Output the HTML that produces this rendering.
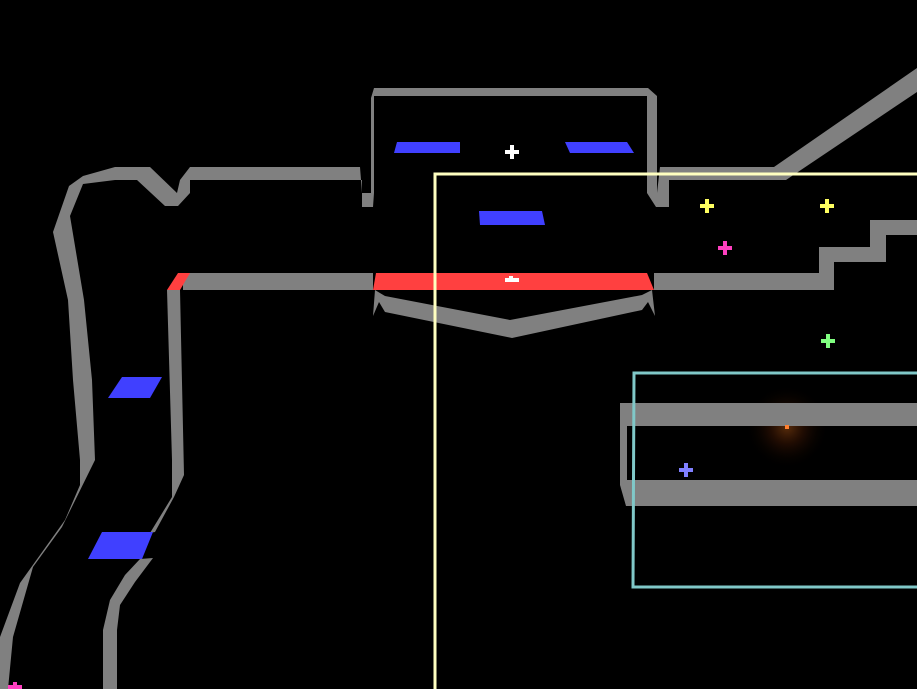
<!DOCTYPE html>
<html><head><style>html,body{margin:0;padding:0;background:#000;width:917px;height:689px;overflow:hidden}</style></head>
<body>
<svg width="917" height="689" viewBox="0 0 917 689" xmlns="http://www.w3.org/2000/svg">
<defs><radialGradient id="g"><stop offset="0" stop-color="#804010" stop-opacity="0.7"/><stop offset="0.4" stop-color="#401804" stop-opacity="0.5"/><stop offset="1" stop-color="#000" stop-opacity="0"/></radialGradient></defs>
<circle cx="787" cy="427" r="42" fill="url(#g)"/>
<g fill="#808080">
<polygon points="53,232 68,300 73,380 80,460 80,485 65,520 35,562 20,583 0,637 0,689 8,689 13,637 33,567 62,527 95,460 92,380 84,300 70,216 83,184 115,180 137,180 165,206 178,206 190,193 190,180 362,180 362,207 373,207 374,193 362,193 360,167 190,167 180,180 177,193 150,167 115,167 83,176 69,186"/>
<polygon points="371,98 374,88 648,88 657,96 657,193 647,193 647,96 374,96 374,193 371,193"/>
<polygon points="647,193 656,207 669,207 669,180 786,180 917,92 917,68 774,167 660,167 657,193"/>
<polygon points="183,273 373,273 373,290 183,290"/>
<polygon points="654,273 834,273 834,290 654,290"/>
<polygon points="819,247 870,247 870,220 917,220 917,235 886,235 886,262 834,262 834,290 819,290"/>
<polygon points="375,290 385,296 510,320 642,295 652,290 655,316 648,302 642,310 512,338 385,312 379,302 373,316"/>
<polygon points="167,290 180,290 184,475 174,497 155,532 150,533 172,497 172,460"/>
<polygon points="140,559 153,558 135,582 120,605 117,630 117,689 103,689 103,630 110,600 125,575"/>
<polygon points="620,403 917,403 917,426 627,426 627,480 917,480 917,506 626,506 620,485"/>
</g>
<g fill="#ff4040">
<polygon points="376,273 647,273 654,290 373,290"/>
<polygon points="178,273 190,273 180,290 167,290"/>
</g>
<g fill="#4040ff">
<polygon points="397,142 460,142 460,153 394,153"/>
<polygon points="565,142 627,142 634,153 570,153"/>
<polygon points="479,211 542,211 545,225 480,225"/>
<polygon points="122,377 162,377 150,398 108,398"/>
<polygon points="102,532 153,532 142,559 88,559"/>
</g>
<rect x="785" y="425" width="4" height="4" fill="#ff8030"/>
<g fill="none" stroke-width="3">
<polyline points="435,689 435,174 917,174" stroke="#ffffc0"/>
<polyline points="917,373 634,373 633,587 917,587" stroke="#80c8c8"/>
</g>
<g stroke-width="4">
<path d="M505,152h14M512,145v14" stroke="#fff"/>
<path d="M700,206h14M707,199v14" stroke="#ffff60"/>
<path d="M820,206h14M827,199v14" stroke="#ffff60"/>
<path d="M718,248h14M725,241v14" stroke="#ff40c0"/>
<path d="M821,341h14M828,334v14" stroke="#80ff80"/>
<path d="M679,470h14M686,463v14" stroke="#8080ff"/>
<path d="M8,687h14M15,682v10" stroke="#ff40c0"/>
<path d="M505,280h14M511,276v6" stroke="#fff"/>
</g>
</svg>
</body></html>
